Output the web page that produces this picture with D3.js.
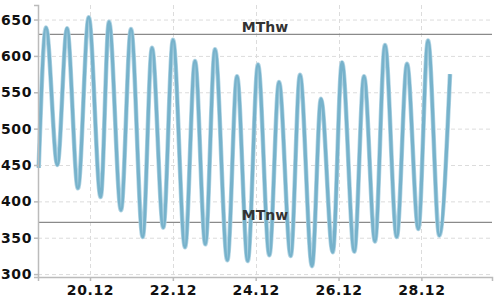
<!DOCTYPE html>
<html>
<head>
<meta charset="utf-8">
<script src="https://cdn.jsdelivr.net/npm/d3@7"></script>
<style>
  html, body { margin: 0; padding: 0; background: #fff; }
  svg { display: block; }
  text { font-family: "DejaVu Sans", sans-serif; }
</style>
</head>
<body>
<svg id="chart" width="500" height="300"></svg>
<script>
// Water level (cm) at high / low waters
const times = [
  "2023-12-18T18:16", "2023-12-18T22:30",
  "2023-12-19T05:05", "2023-12-19T10:40", "2023-12-19T17:00", "2023-12-19T23:15",
  "2023-12-20T06:10", "2023-12-20T11:00", "2023-12-20T17:57", "2023-12-20T23:45",
  "2023-12-21T06:32", "2023-12-21T11:55", "2023-12-21T18:28", "2023-12-22T00:05",
  "2023-12-22T07:03", "2023-12-22T12:50", "2023-12-22T18:49", "2023-12-23T00:25",
  "2023-12-23T07:34", "2023-12-23T13:10", "2023-12-23T19:22", "2023-12-24T01:20",
  "2023-12-24T07:54", "2023-12-24T13:30", "2023-12-24T20:17", "2023-12-25T01:40",
  "2023-12-25T08:38", "2023-12-25T13:50", "2023-12-25T20:38", "2023-12-26T02:00",
  "2023-12-26T09:08", "2023-12-26T14:45", "2023-12-26T21:08", "2023-12-27T02:55",
  "2023-12-27T09:43", "2023-12-27T15:40", "2023-12-27T22:13", "2023-12-28T03:50",
  "2023-12-28T10:23", "2023-12-28T16:35"
];
const levels = [
  446, 639,
  450, 638, 418, 653,
  406, 647, 388, 637,
  351, 611, 364, 622,
  337, 593, 341, 609,
  319, 572, 318, 588,
  326, 564, 325, 574,
  311, 541, 330, 591,
  331, 572, 345, 615,
  351, 589, 362, 621,
  353, 575
];
const refNames = ["MThw", "MTnw"];
const refValues = [629.5, 371];
const yTicks = [300, 350, 400, 450, 500, 550, 600, 650];
const xTickDates = ["2023-12-20", "2023-12-22", "2023-12-24", "2023-12-26", "2023-12-28"];
const xTickLabels = ["20.12", "22.12", "24.12", "26.12", "28.12"];
const xDomain = ["2023-12-18T17:52", "2023-12-29T16:55"];
const yDomain = [296, 670];

const parse = d3.timeParse("%Y-%m-%dT%H:%M");
const parseDay = d3.timeParse("%Y-%m-%d");
const data = times.map((t, i) => ({ t: parse(t), v: levels[i] }));

const W = 500, H = 300;
const m = { left: 38, right: 8, top: 5, bottom: 23 };
const svg = d3.select("#chart");

const x = d3.scaleTime().domain(xDomain.map(parse)).range([m.left, W - m.right]);
const y = d3.scaleLinear().domain(yDomain).range([H - m.bottom, m.top]);
const tickDates = xTickDates.map(parseDay);

// grid
const grid = svg.append("g");
grid.selectAll("line.gy").data(yTicks).join("line")
  .attr("x1", m.left).attr("x2", W - m.right)
  .attr("y1", d => y(d) + 0.5).attr("y2", d => y(d) + 0.5)
  .attr("stroke", "#dcdcdc").attr("stroke-dasharray", "4,3");
grid.selectAll("line.gx").data(tickDates).join("line")
  .attr("x1", d => Math.round(x(d)) + 0.5).attr("x2", d => Math.round(x(d)) + 0.5)
  .attr("y1", m.top).attr("y2", H - m.bottom)
  .attr("stroke", "#dcdcdc").attr("stroke-dasharray", "4,3");

// reference lines
const refs = svg.append("g");
refValues.forEach((v) => {
  refs.append("line")
    .attr("x1", m.left).attr("x2", W - m.right)
    .attr("y1", y(v)).attr("y2", y(v))
    .attr("stroke", "#8a8a8a").attr("stroke-width", 1.2);
});

// line
const line = d3.line().x(d => x(d.t)).y(d => y(d.v)).curve(d3.curveMonotoneX);
svg.append("path").datum(data).attr("d", line)
  .attr("fill", "none").attr("stroke", "#b3d5e4").attr("stroke-width", 4.6);
svg.append("path").datum(data).attr("d", line)
  .attr("fill", "none").attr("stroke", "#77b2cb").attr("stroke-width", 3.2);

// reference labels on top
refValues.forEach((v, i) => {
  svg.append("text")
    .attr("x", 265).attr("y", y(v) - 2.5)
    .attr("text-anchor", "middle")
    .attr("font-size", 14).attr("font-weight", "bold")
    .attr("fill", "#333").text(refNames[i]);
});

// axes
const yAxis = d3.axisLeft(y).tickValues(yTicks).tickSize(4).tickPadding(2);
const gy = svg.append("g").attr("transform", `translate(${m.left},0)`).call(yAxis);
const xAxis = d3.axisBottom(x).tickValues(tickDates)
  .tickFormat((d, i) => xTickLabels[i]).tickSize(4).tickPadding(4);
const gx = svg.append("g").attr("transform", `translate(0,${H - m.bottom})`).call(xAxis);
[gx, gy].forEach(g => {
  g.select(".domain").attr("stroke", "#bbb").attr("stroke-width", 1.5);
  g.selectAll(".tick line").attr("stroke", "#bbb").attr("stroke-width", 1.5);
  g.selectAll(".tick text")
    .attr("font-family", "DejaVu Sans, sans-serif")
    .attr("font-size", 14).attr("font-weight", "bold")
    .attr("letter-spacing", "0.6px").attr("fill", "#111");
});
</script>
</body>
</html>
